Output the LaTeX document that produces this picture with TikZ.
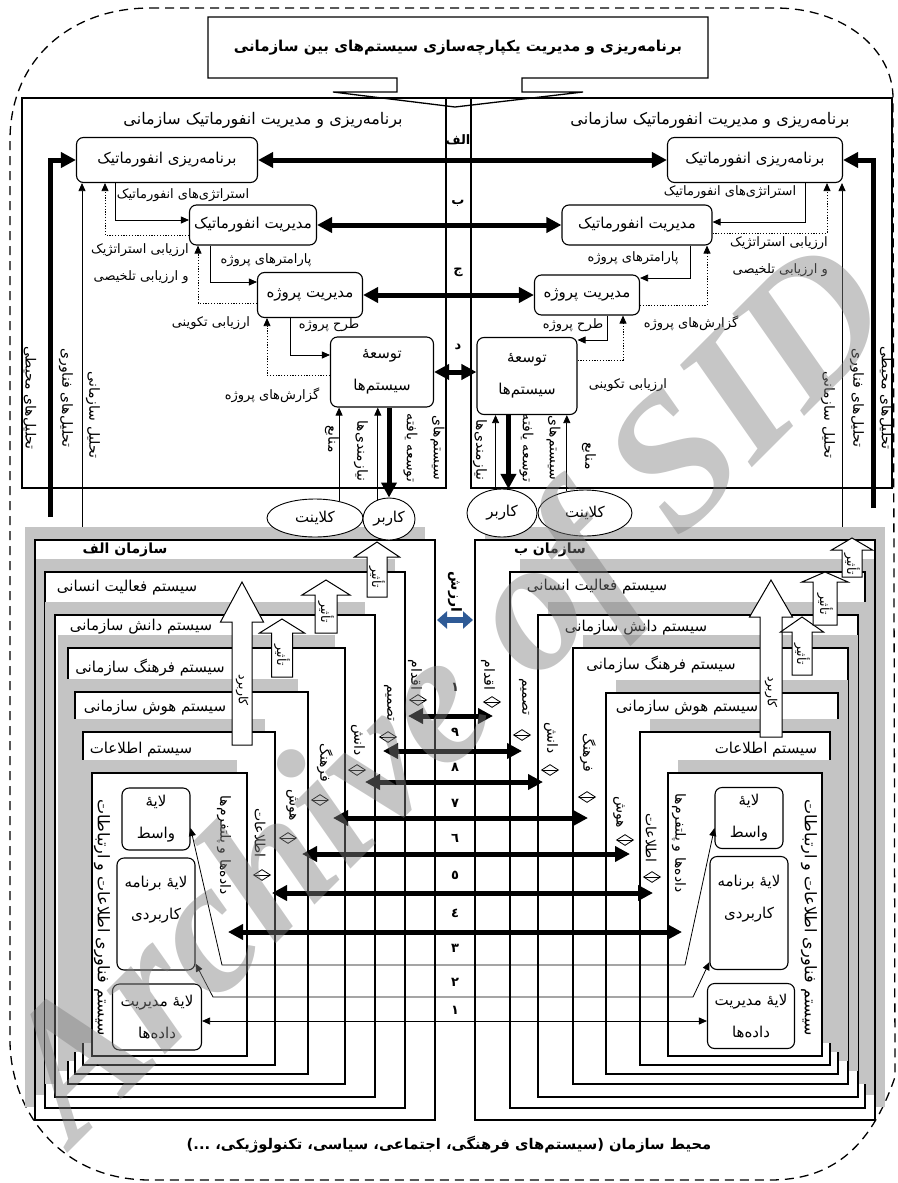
\documentclass[tikz,border=0pt]{standalone}
\usepackage{fontspec}
\setmainfont[Script=Arabic]{DejaVu Sans}
\newfontfamily\wmfont{Liberation Serif}
\TeXXeTstate=1
\usetikzlibrary{arrows.meta, positioning, shapes.geometric, calc}
\definecolor{shadegray}{HTML}{C4C4C4}
\definecolor{val}{HTML}{2E5A96}
\newcommand{\fa}[1]{\beginR#1\endR}
\newcommand{\fsz}[2]{\fontsize{#1}{#2}\selectfont}
\newcommand{\blkarrow}[6]{\draw[blk] ({#1-#4},#2) -- ({#1-#4},#6) -- ({#1-#5},#6) -- (#1,#3) -- ({#1+#5},#6) -- ({#1+#4},#6) -- ({#1+#4},#2) -- cycle;}
\tikzset{
  env/.style={dashed, dash pattern=on 9pt off 6pt, line width=1.3pt},
  frm/.style={line width=1.3pt},
  bx/.style={draw, line width=1.1pt, rounded corners=7pt, fill=white, align=center, inner sep=0pt, font=\fsz{15}{32}},
  lbl/.style={inner sep=1pt, font=\fsz{13}{27}, align=right},
  vl/.style={lbl, rotate=-90, align=center, font=\fsz{14}{16}},
  hd/.style={inner sep=1pt, font=\bfseries\fsz{14}{16}},
  sysl/.style={inner sep=1pt, font=\fsz{15}{17}},
  let/.style={inner sep=1pt, font=\bfseries\fsz{13}{13}},
  num/.style={inner sep=1pt, font=\bfseries\fsz{13}{13}},
  ell/.style={draw, ellipse, line width=0.9pt, fill=white, inner sep=0pt, font=\fsz{15}{17}},
  a/.style={-{Triangle[length=8pt,width=7pt]}, line width=0.8pt},
  ad/.style={a, dash pattern=on 1.2pt off 1.6pt},
  aa/.style={{Triangle[length=8pt,width=7pt]}-{Triangle[length=8pt,width=7pt]}, line width=0.8pt},
  ta/.style={-{Triangle[length=15pt,width=15pt]}, line width=5pt},
  tad/.style={{Triangle[length=15pt,width=15pt]}-{Triangle[length=15pt,width=15pt]}, line width=5pt},
  vad/.style={{Triangle[length=10pt,width=17pt]}-{Triangle[length=10pt,width=17pt]}, line width=6pt, draw=val},
  shd/.style={fill=shadegray},
  sys/.style={draw, fill=white, line width=1.3pt},
  blk/.style={draw, fill=white, line width=1pt},
  dia/.style={diamond, draw, fill=white, line width=0.8pt, inner sep=0pt, minimum width=17pt, minimum height=11pt,
    path picture={\draw[line width=0.8pt] (path picture bounding box.west) -- (path picture bounding box.east);}},
}
\begin{document}
\begin{tikzpicture}[x=1pt, y=-1pt]
\useasboundingbox (0,0) rectangle (897,1183);

\draw[env] (150,8) -- (775,8) .. controls (845,8) and (893,50) .. (893,98) -- (895,1077)
  .. controls (870,1150) and (830,1180) .. (770,1180) -- (150,1180)
  .. controls (60,1180) and (10,1110) .. (10,1040) -- (10,140) .. controls (10,60) and (70,8) .. (150,8);

\draw[frm] (208,17) -- (708,17) -- (708,78) -- (522,78) -- (522,92) -- (583,92) -- (455,107)
  -- (333,92) -- (397,92) -- (397,78) -- (208,78) -- cycle;
\node[inner sep=1pt, font=\bfseries\fsz{15}{17}] (ttl) at (458,48) {\fa{برنامه‌ریزی و مدیریت یکپارچه‌سازی سیستم‌های بین سازمانی}};

\draw[frm] (22,98) rectangle (446,488);
\draw[frm] (471,98) rectangle (892,488);
\draw[frm] (446,98) -- (471,98);
\node[sysl, font=\fsz{16}{18}] (hl) at (263,120) {\fa{برنامه‌ریزی و مدیریت انفورماتیک سازمانی}};
\node[sysl, font=\fsz{16}{18}] (hr) at (710,120) {\fa{برنامه‌ریزی و مدیریت انفورماتیک سازمانی}};
\foreach \y/\c [count=\i] in {140/الف, 203/ب, 272/ج, 347/د}
  \node[let] (c\i) at (458,\y) {\fa{\c}};

\node[bx, minimum width=181pt, minimum height=45pt] (pl) at (167,160) {\fa{برنامه‌ریزی انفورماتیک}};
\node[bx, minimum width=127pt, minimum height=40pt] (ml) at (253,225) {\fa{مدیریت انفورماتیک}};
\node[bx, minimum width=105pt, minimum height=45pt] (jl) at (310,295) {\fa{مدیریت پروژه}};
\node[bx, minimum width=103pt, minimum height=70pt] (tl) at (382,372) {\fa{توسعهٔ}\\\fa{سیستم‌ها}};
\node[bx, minimum width=175pt, minimum height=45pt] (pr) at (755,160) {\fa{برنامه‌ریزی انفورماتیک}};
\node[bx, minimum width=150pt, minimum height=40pt] (mr) at (637,225) {\fa{مدیریت انفورماتیک}};
\node[bx, minimum width=105pt, minimum height=40pt] (jr) at (587,295) {\fa{مدیریت پروژه}};
\node[bx, minimum width=100pt, minimum height=77pt] (tr) at (527,376) {\fa{توسعهٔ}\\\fa{سیستم‌ها}};

\draw[tad] (pl) -- (pr);
\draw[tad] (ml) -- (mr);
\draw[tad] (jl) -- (jr);
\draw[tad] (tl.east) -- (tl.east -| tr.west);

\coordinate (tfl) at (50,517);
\coordinate (tsl) at (82,540);
\draw[ta] (tfl) |- (pl.west);
\draw[a] (tsl) -- (tsl |- pl.south);
\node[vl] (envl) at (30,398) {\fa{تحلیل‌های محیطی}};
\node[vl] (tecl) at (66,398) {\fa{تحلیل‌های فناوری}};
\node[vl] (orgl) at (93,415) {\fa{تحلیل سازمانی}};
\coordinate (tfr) at (873,508);
\coordinate (tsr) at (842,540);
\draw[ta] (tfr) |- (pr.east);
\draw[a] (tsr) -- (tsr |- pr.south);
\node[vl] (envr) at (886,398) {\fa{تحلیل‌های محیطی}};
\node[vl] (tecr) at (857,398) {\fa{تحلیل‌های فناوری}};
\node[vl] (orgr) at (828,415) {\fa{تحلیل سازمانی}};

\draw[a] ([xshift=-52pt]pl.south) |- ([yshift=5pt]ml.west);
\node[lbl] (s1l) at (183,195) {\fa{استراتژی‌های انفورماتیک}};
\draw[ad] ([yshift=-10pt]ml.west) -| ([xshift=-62pt]pl.south);
\node[lbl] (e1l) at (140,264) {\fa{ارزیابی استراتژیک}\\\fa{و ارزیابی تلخیصی}};
\draw[a] ([xshift=-43pt]ml.south) |- ([yshift=13pt]jl.west);
\node[lbl] (p1l) at (266,260) {\fa{پارامترهای پروژه}};
\draw[ad] ([yshift=-8pt]jl.west) -| ([xshift=-55pt]ml.south);
\node[lbl] (e2l) at (211,323) {\fa{ارزیابی تکوینی}};
\draw[a] ([xshift=-20pt]jl.south) |- ([yshift=17pt]tl.west);
\node[lbl] (p2l) at (329,325) {\fa{طرح پروژه}};
\draw[ad] ([yshift=-3pt]tl.west) -| ([xshift=-43pt]jl.south);
\node[lbl] (g1l) at (272,395) {\fa{گزارش‌های پروژه}};

\draw[a] ([xshift=50pt]pr.south) |- ([yshift=3pt]mr.east);
\node[lbl] (s1r) at (730,192) {\fa{استراتژی‌های انفورماتیک}};
\draw[ad] ([yshift=-8pt]mr.east) -| ([xshift=72pt]pr.south);
\node[lbl] (e1r) at (779,257) {\fa{ارزیابی استراتژیک}\\\fa{و ارزیابی تلخیصی}};
\draw[a] ([xshift=53pt]mr.south) |- ([yshift=17pt]jr.east);
\node[lbl] (p1r) at (633,258) {\fa{پارامترهای پروژه}};
\draw[ad] ([yshift=-10pt]jr.east) -| ([xshift=70pt]mr.south);
\node[lbl] (g1r) at (691,323) {\fa{گزارش‌های پروژه}};
\draw[a] ([xshift=20pt]jr.south) |- ([yshift=36pt]tr.east);
\node[lbl] (p2r) at (573,325) {\fa{طرح پروژه}};
\draw[ad] ([yshift=16pt]tr.east) -| ([xshift=36pt]jr.south);
\node[lbl] (e2r) at (628,385) {\fa{ارزیابی تکوینی}};

% organisations
\foreach \l/\t/\r/\b in {35/540/435/1120, 45/572/405/1108, 55/615/375/1097, 68/648/345/1084, 75/692/308/1074, 83/732/275/1065, 92/773/247/1056} {
  \fill[shd] ({\l-10},{\t-13}) rectangle ({\r-10},{\b-13});
  \draw[sys] (\l,\t) rectangle (\r,\b);
}
\foreach \l/\t/\r/\b in {475/540/875/1120, 510/572/865/1108, 538/615/858/1097, 573/648/848/1084, 606/693/838/1074, 640/732/830/1065, 668/773/822/1056} {
  \fill[shd] ({\l+10},{\t-13}) rectangle ({\r+10},{\b-13});
  \draw[sys] (\l,\t) rectangle (\r,\b);
}
\draw[line width=2.2pt] (35,540) rectangle (435,1120);
\draw[line width=2.2pt] (475,540) rectangle (875,1120);

\node[hd] (oa) at (125,550) {\fa{سازمان الف}};
\node[sysl] (ha) at (127,588) {\fa{سیستم فعالیت انسانی}};
\node[sysl] (ka) at (141,627) {\fa{سیستم دانش سازمانی}};
\node[sysl] (fa) at (150,668) {\fa{سیستم فرهنگ سازمانی}};
\node[sysl] (ia) at (155,708) {\fa{سیستم هوش سازمانی}};
\node[sysl] (xa) at (141,750) {\fa{سیستم اطلاعات}};
\node[vl, font=\fsz{16}{18}] (ita) at (102,918) {\fa{سیستم فناوری اطلاعات و ارتباطات}};
\node[hd] (ob) at (550,550) {\fa{سازمان ب}};
\node[sysl] (hb) at (597,587) {\fa{سیستم فعالیت انسانی}};
\node[sysl] (kb) at (636,628) {\fa{سیستم دانش سازمانی}};
\node[sysl] (fb) at (661,665) {\fa{سیستم فرهنگ سازمانی}};
\node[sysl] (ib) at (687,708) {\fa{سیستم هوش سازمانی}};
\node[sysl] (xb) at (766,750) {\fa{سیستم اطلاعات}};
\node[vl, font=\fsz{16}{18}] (itb) at (809,918) {\fa{سیستم فناوری اطلاعات و ارتباطات}};

\node[bx, minimum width=68pt, minimum height=62pt] (wl) at (156,819) {\fa{لایهٔ}\\\fa{واسط}};
\node[bx, minimum width=78pt, minimum height=112pt] (bl) at (156,914) {\fa{لایهٔ برنامه}\\\fa{کاربردی}\\\mbox{}};
\node[bx, minimum width=89pt, minimum height=66pt] (dl) at (157,1017) {\fa{لایهٔ مدیریت}\\\fa{داده‌ها}};
\node[bx, minimum width=68pt, minimum height=61pt] (wr) at (749,818) {\fa{لایهٔ}\\\fa{واسط}};
\node[bx, minimum width=78pt, minimum height=113pt] (br) at (749,913) {\fa{لایهٔ برنامه}\\\fa{کاربردی}\\\mbox{}};
\node[bx, minimum width=87pt, minimum height=65pt] (dr) at (751,1016) {\fa{لایهٔ مدیریت}\\\fa{داده‌ها}};

% impact arrows
\blkarrow{242}{745}{582}{10}{21.5}{622}
\blkarrow{326}{633}{580}{11}{24}{595}
\blkarrow{282}{677}{619}{10.5}{22.5}{633}
\blkarrow{377}{597}{542}{10}{22.5}{557}
\blkarrow{771}{737}{580}{11}{21.5}{617}
\blkarrow{802}{675}{617}{10}{21.5}{632}
\blkarrow{825}{625}{572}{12}{23}{582}
\blkarrow{852}{577}{538}{10}{20.5}{550}
\foreach \x/\y/\w [count=\i] in {242/690/کاربرد, 326/612/تأثیر, 282/655/تأثیر, 377/577/تأثیر, 771/692/کاربرد, 802/654/تأثیر, 825/604/تأثیر, 852/564/تأثیر}
  \node[vl, font=\fsz{12.5}{14}] (im\i) at (\x,\y) {\fa{\w}};

% rows between the organisations
\foreach \y/\xl/\xr [count=\i] in {716/408/493, 751/383/522, 782/365/543, 818/333/588, 854/302/630, 893/272/653, 932/228/682} {
  \coordinate (rl\i) at (\xl,\y);
  \coordinate (rr\i) at (\xr,\y);
  \draw[tad] (rl\i) -- (rr\i);
}
\foreach \x/\y [count=\i] in {418/700, 388/737, 357/770, 320/800, 288/838, 262/875}
  \node[dia] (dml\i) at (\x,\y) {};
\foreach \x/\y [count=\i] in {492/702, 522/735, 550/770, 587/797, 625/840, 652/877}
  \node[dia] (dmr\i) at (\x,\y) {};
\foreach \x/\y/\w [count=\i] in {415/675/اقدام, 389/703/تصمیم, 358/740/دانش, 325/763/فرهنگ, 292/805/هوش, 260/833/اطلاعات, 224/845/داده‌ها و پلتفرم‌ها,
  488/675/اقدام, 524/697/تصمیم, 551/738/دانش, 588/753/فرهنگ, 619/812/هوش, 651/838/اطلاعات, 679/843/داده‌ها و پلتفرم‌ها}
  \node[vl] (rw\i) at (\x,\y) {\fa{\w}};
\draw[aa] ([yshift=-9pt]wl.east) -- (222,965) -- (685,965) -- ([yshift=-10pt]wr.west);
\draw[aa] ([yshift=7pt]bl.south east) -- (213,997) -- (693,997) -- ([yshift=8pt]br.south west);
\draw[aa] ([yshift=-4pt]dl.east) -- ([yshift=-4pt]dl.east -| dr.west);

\coordinate (vl1) at (437,620);
\coordinate (vr1) at (473,620);
\draw[vad] (vl1) -- (vr1);
\node[vl, font=\bfseries\fsz{14}{16}] (val) at (455,592) {\fa{ارزش}};
\foreach \y/\d [count=\i] in {687/١, 732/٩, 767/٨, 803/٧, 838/٦, 875/٥, 913/٤, 948/٣, 982/٢, 1010/١}
  \node[num] (n\i) at (455,\y) {\fa{\d}};

% clients and users
\node[ell, minimum width=96pt, minimum height=38pt] (kla) at (315,518) {\fa{کلاینت}};
\node[ell, minimum width=52pt, minimum height=42pt] (kra) at (389,519) {\fa{کاربر}};
\node[ell, minimum width=70pt, minimum height=48pt] (krb) at (502,513) {\fa{کاربر}};
\node[ell, minimum width=94pt, minimum height=46pt] (klb) at (585,513) {\fa{کلاینت}};
\draw[a] (kla.35) -- (kla.35 |- tl.south);
\draw[a] (kra.120) -- (kra.120 |- tl.south);
\draw[ta] (tl.south -| kra.north) -- (kra.north);
\draw[a] (krb.105) -- (krb.105 |- tr.south);
\draw[ta] (tr.south -| krb.75) -- (krb.75);
\draw[a] (klb.130) -- (klb.130 |- tr.south);
\node[vl] (mnl) at (332,439) {\fa{منابع}};
\node[vl] (nzl) at (361,451) {\fa{نیازمندی‌ها}};
\node[vl, font=\fsz{14}{27}] (sdl) at (424,448) {\fa{سیستم‌های}\\\fa{توسعه یافته}};
\node[vl] (nzr) at (480,450) {\fa{نیازمندی‌ها}};
\node[vl, font=\fsz{14}{27}] (sdr) at (540,448) {\fa{سیستم‌های}\\\fa{توسعه یافته}};
\node[vl] (mnr) at (589,456) {\fa{منابع}};

\node[inner sep=1pt, font=\bfseries\fsz{14.7}{17}] (envt) at (449,1145) {\fa{محیط سازمان (سیستم‌های فرهنگی، اجتماعی، سیاسی، تکنولوژیکی، ...)}};

\node[rotate=45, inner sep=0pt, text=black!50, text opacity=0.45, font=\wmfont\bfseries\itshape\fsz{188}{188}] (wmk) at (455,700) {Archive of SID};
\end{tikzpicture}
\end{document}
